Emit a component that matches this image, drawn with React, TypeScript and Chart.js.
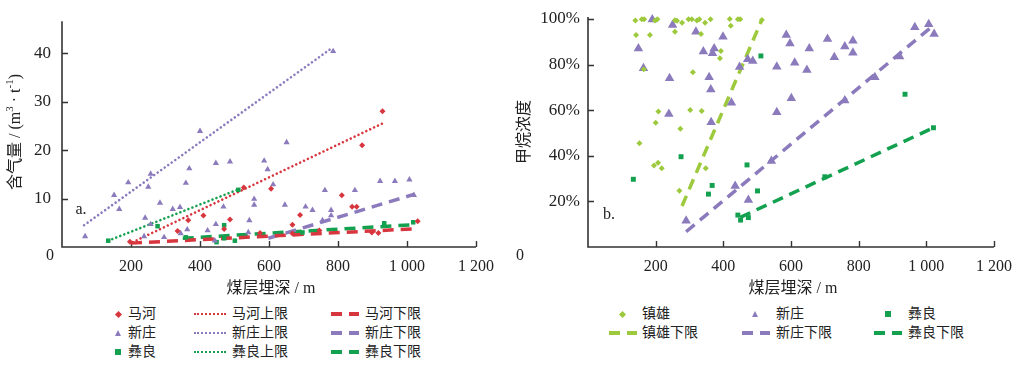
import { useEffect, useRef } from 'react';
import { Chart, registerables } from 'chart.js';
Chart.register(...registerables);

const FONT = '"Liberation Serif", "Noto Sans CJK SC", serif';
const RED = '#d8363f';
const PURPLE = '#8b7bbd';
const GREEN = '#13a04f';
const YGREEN = '#9dc93c';
const AXIS = '#333333';

// tick values
const depthTicks = [200, 400, 600, 800, 1000, 1200];
const gasTicks = [10, 20, 30, 40];
const concTicks = [0.2, 0.4, 0.6, 0.8, 1.0];

// ---- panel a: gas content (m3/t) vs depth (m)
const maHe: [number, number][] = [
  [197, 1.1], [335, 3.3], [366, 5.5], [410, 6.5], [470, 3.7], [487, 5.7], [527, 12.3],
  [574, 2.9], [606, 12.0], [668, 4.6], [668, 2.8], [690, 6.6], [746, 3.4], [811, 10.7],
  [841, 8.3], [854, 8.3], [870, 21.0], [898, 3.0], [917, 2.9], [929, 28.0], [1031, 5.3],
];
const xinZhuangA: [number, number][] = [
  [67, 2.2], [151, 10.7], [166, 7.8], [192, 13.3], [238, 2.2], [241, 6.0], [250, 12.4],
  [257, 15.1], [257, 4.7], [284, 9.1], [296, 2.0], [321, 7.8], [342, 8.2], [344, 2.8],
  [359, 13.2], [363, 3.6], [369, 16.2], [400, 23.9], [422, 3.4], [443, 1.3], [446, 4.7],
  [446, 17.3], [468, 8.3], [487, 17.6], [540, 3.0], [543, 5.5], [557, 8.7], [557, 9.9],
  [586, 17.8], [596, 16.0], [612, 12.9], [646, 8.7], [651, 21.6], [706, 8.3], [726, 7.6],
  [755, 5.5], [762, 11.7], [780, 6.5], [780, 7.6], [786, 40.4], [849, 11.7], [922, 13.6],
  [965, 13.6], [1007, 13.9], [1020, 10.7],
];
const yiLiangA: [number, number][] = [
  [134, 1.3], [277, 4.3], [359, 2.0], [448, 1.0], [470, 4.5], [470, 1.8], [501, 1.3],
  [511, 11.8], [697, 3.0], [934, 4.9], [1018, 5.1],
];
const maHeUpper: [number, number][] = [[205, 1.0], [929, 25.5]];
const xinZhuangUpper: [number, number][] = [[64, 4.5], [785, 41.2]];
const yiLiangUpper: [number, number][] = [[134, 1.3], [515, 12.0]];
const maHeLower: [number, number][] = [[200, 0.8], [1032, 3.8]];
const xinZhuangLowerA: [number, number][] = [[598, 1.8], [1022, 10.9]];
const yiLiangLowerA: [number, number][] = [[350, 1.8], [1020, 4.6]];

// ---- panel b: methane concentration vs depth (m)
const zhenXiong: [number, number][] = [
  [140, 0.993], [159, 0.999], [166, 0.999], [198, 0.993], [205, 0.999], [257, 0.995],
  [263, 0.992], [278, 0.984], [297, 0.999], [307, 0.999], [322, 0.993], [329, 0.999],
  [346, 0.984], [362, 0.999], [419, 1.0], [443, 0.999], [450, 0.999], [514, 0.996],
  [142, 0.93], [183, 0.93], [257, 0.944], [334, 0.934], [422, 0.97],
  [393, 0.86], [390, 0.828], [165, 0.78], [310, 0.766],
  [208, 0.594], [200, 0.545], [302, 0.601], [336, 0.596], [273, 0.519], [152, 0.455],
  [195, 0.357], [207, 0.37], [218, 0.345], [348, 0.345], [270, 0.247],
];
const xinZhuangB: [number, number][] = [
  [149, 0.871], [164, 0.784], [190, 0.998], [239, 0.583], [241, 0.74], [250, 0.974],
  [290, 0.115], [319, 0.944], [341, 0.857], [358, 0.744], [363, 0.691], [364, 0.547],
  [368, 0.85], [373, 0.871], [399, 0.922], [424, 0.633], [435, 0.268], [448, 0.79],
  [472, 0.823], [474, 0.206], [487, 0.816], [542, 0.377], [558, 0.591], [558, 0.791],
  [586, 0.93], [597, 0.893], [601, 0.652], [611, 0.808], [647, 0.776], [654, 0.871],
  [708, 0.912], [728, 0.832], [759, 0.642], [759, 0.879], [783, 0.852], [783, 0.905],
  [848, 0.744], [921, 0.835], [966, 0.964], [1007, 0.977], [1023, 0.934],
];
const yiLiangB: [number, number][] = [
  [134, 0.297], [275, 0.396], [356, 0.232], [367, 0.27], [443, 0.14], [451, 0.118],
  [470, 0.36], [474, 0.129], [501, 0.246], [511, 0.838], [700, 0.308], [937, 0.67],
  [1021, 0.523],
];
const zhenXiongLower: [number, number][] = [[278, 0.18], [512, 0.99]];
const xinZhuangLowerB: [number, number][] = [[290, 0.067], [1016, 0.966]];
const yiLiangLowerB: [number, number][] = [[450, 0.13], [1021, 0.523]];

const pts = (arr: [number, number][]) => arr.map(([x, y]) => ({ x, y }));

function scatterSet(label: string, data: [number, number][], color: string, style: string, radius: number) {
  return {
    type: 'scatter', label, data: pts(data), pointStyle: style, pointRadius: radius,
    pointHoverRadius: radius, backgroundColor: color, borderColor: color, borderWidth: 0,
    showLine: false, order: 0, clip: false,
  };
}
function lineSet(label: string, data: [number, number][], color: string, dotted: boolean) {
  return {
    type: 'scatter', label, data: pts(data), showLine: true, pointRadius: 0, pointHoverRadius: 0,
    borderColor: color, backgroundColor: color,
    borderWidth: dotted ? 2.6 : 3.5,
    borderDash: dotted ? [0.01, 4.3] : [11, 7],
    borderCapStyle: dotted ? 'round' : 'butt',
    order: 1, clip: false,
  };
}

const fmtDepth = (v: number) => {
  if (v === 0) return '';
  if (v >= 1000) return `${Math.floor(v / 1000)} ${String(v % 1000).padStart(3, '0')}`;
  return String(v);
};

type Piece = { t: string; sup?: boolean };

const axesPlugin = {
  id: 'customAxes',
  beforeDatasetsDraw(chart: any, _args: any, opts: any) {
    const { ctx, chartArea, scales } = chart;
    const xs = scales.x;
    const ys = scales.y;
    const x0 = xs.getPixelForValue(0);
    const yAxis = ys.getPixelForValue(0);
    const xEnd = xs.getPixelForValue(1200);
    ctx.save();
    ctx.strokeStyle = AXIS;
    ctx.lineWidth = 1.6;
    ctx.beginPath();
    ctx.moveTo(x0, chartArea.top - (opts.topExtra || 0));
    ctx.lineTo(x0, yAxis);
    ctx.lineTo(xEnd, yAxis);
    ctx.stroke();
    ctx.lineWidth = 1.4;
    ctx.beginPath();
    for (const v of depthTicks) {
      const px = Math.round(xs.getPixelForValue(v)) + 0.5;
      ctx.moveTo(px, yAxis);
      ctx.lineTo(px, yAxis - 6);
    }
    for (const v of opts.yTicks) {
      const py = Math.round(ys.getPixelForValue(v)) + 0.5;
      ctx.moveTo(x0, py);
      ctx.lineTo(x0 + 6, py);
    }
    ctx.stroke();

    ctx.fillStyle = '#222';
    ctx.textAlign = 'center';
    ctx.textBaseline = 'middle';
    ctx.font = `16px ${FONT}`;
    ctx.fillText('0', opts.zero[0], opts.zero[1]);
    ctx.fillText(opts.panel, opts.panelPos[0], opts.panelPos[1]);
    // x title
    ctx.fillText('煤层埋深 / m', (chartArea.left + chartArea.right) / 2 + 2, opts.xTitleY);

    // y title (rotated) with superscripts
    const pieces: Piece[] = opts.yTitle;
    const measure = (p: Piece) => {
      ctx.font = p.sup ? `11px ${FONT}` : `16px ${FONT}`;
      return ctx.measureText(p.t).width;
    };
    const total = pieces.reduce((s, p) => s + measure(p), 0);
    ctx.translate(opts.yTitlePos[0], opts.yTitlePos[1]);
    ctx.rotate(-Math.PI / 2);
    ctx.textAlign = 'left';
    let cx = -total / 2;
    for (const p of pieces) {
      const w = measure(p);
      ctx.fillText(p.t, cx, p.sup ? -6 : 0);
      cx += w;
    }
    ctx.restore();
  },
};

function makeConfig(kind: 'a' | 'b') {
  const tickFont = { family: FONT, size: 16 };
  const yTickFont = { family: FONT, size: 17 };
  const isA = kind === 'a';
  const datasets = isA
    ? [
        scatterSet('马河', maHe, RED, 'rectRot', 3),
        scatterSet('新庄', xinZhuangA, PURPLE, 'triangle', 3.6),
        scatterSet('彝良', yiLiangA, GREEN, 'rect', 3.2),
        lineSet('马河上限', maHeUpper, RED, true),
        lineSet('新庄上限', xinZhuangUpper, PURPLE, true),
        lineSet('彝良上限', yiLiangUpper, GREEN, true),
        lineSet('马河下限', maHeLower, RED, false),
        lineSet('新庄下限', xinZhuangLowerA, PURPLE, false),
        lineSet('彝良下限', yiLiangLowerA, GREEN, false),
      ]
    : [
        scatterSet('镇雄', zhenXiong, YGREEN, 'rectRot', 3),
        scatterSet('新庄', xinZhuangB, PURPLE, 'triangle', 5.5),
        scatterSet('彝良', yiLiangB, GREEN, 'rect', 3.5),
        lineSet('镇雄下限', zhenXiongLower, YGREEN, false),
        lineSet('新庄下限', xinZhuangLowerB, PURPLE, false),
        lineSet('彝良下限', yiLiangLowerB, GREEN, false),
      ];
  const yTicks = isA ? gasTicks : concTicks;
  return {
    type: 'scatter',
    data: { datasets },
    plugins: [axesPlugin],
    options: {
      animation: false,
      responsive: false,
      devicePixelRatio: 1,
      layout: { padding: { left: 0, top: isA ? 17 : 19, right: isA ? 29 : 22, bottom: 0 } },
      plugins: {
        legend: { display: false },
        tooltip: { enabled: false },
        customAxes: isA
          ? {
              yTicks, topExtra: 0, zero: [50, 256], panel: 'a.', panelPos: [81, 210], xTitleY: 289,
              yTitlePos: [16, 132],
              yTitle: [{ t: '含气量 / (m' }, { t: '3', sup: true }, { t: ' · t' }, { t: '-1', sup: true }, { t: ')' }],
            }
          : {
              yTicks, topExtra: 2, zero: [15, 256], panel: 'b.', panelPos: [104, 215], xTitleY: 289,
              yTitlePos: [20, 132],
              yTitle: [{ t: '甲烷浓度' }],
            },
      },
      scales: {
        x: {
          type: 'linear', min: 0, max: 1200,
          afterBuildTicks: (s: any) => { s.ticks = [0, ...depthTicks].map((v) => ({ value: v })); },
          afterFit: (s: any) => { s.height = 53; },
          grid: { display: false, drawTicks: false, tickLength: 0 },
          border: { display: false },
          ticks: { padding: 10, font: tickFont, color: '#222', maxRotation: 0, autoSkip: false, callback: (v: any) => fmtDepth(Number(v)) },
        },
        y: {
          type: 'linear', min: 0, max: isA ? 46.6 : 1.0,
          afterBuildTicks: (s: any) => { s.ticks = [0, ...yTicks].map((v) => ({ value: v })); },
          afterFit: (s: any) => { s.width = isA ? 62 : 83; },
          grid: { display: false, drawTicks: false, tickLength: 0 },
          border: { display: false },
          ticks: {
            padding: isA ? 11 : 8, font: yTickFont, color: '#222', autoSkip: false,
            callback: (v: any) => {
              const n = Number(v);
              if (n === 0) return '';
              return isA ? String(n) : `${Math.round(n * 100)}%`;
            },
          },
        },
      },
    },
  };
}

function Panel({ kind, left, width }: { kind: 'a' | 'b'; left: number; width: number }) {
  const ref = useRef<HTMLCanvasElement | null>(null);
  useEffect(() => {
    if (!ref.current) return;
    const chart = new Chart(ref.current, makeConfig(kind) as any);
    return () => chart.destroy();
  }, [kind]);
  return (
    <canvas
      ref={ref}
      width={width}
      height={300}
      style={{ position: 'absolute', left, top: 0, width, height: 300 }}
    />
  );
}

type LegendItem = { label: string; color: string; kind: 'diamond' | 'triangle' | 'square' | 'dotted' | 'dashed'; x: number; y: number; textX: number; lineW?: number };

function Marker({ it }: { it: LegendItem }) {
  const c = it.color;
  if (it.kind === 'diamond') {
    return <div style={{ position: 'absolute', left: it.x - 2.5, top: it.y - 2.5, width: 5, height: 5, background: c, transform: 'rotate(45deg)' }} />;
  }
  if (it.kind === 'triangle') {
    return <div style={{ position: 'absolute', left: it.x - 3.5, top: it.y - 3.5, width: 0, height: 0, borderLeft: '3.5px solid transparent', borderRight: '3.5px solid transparent', borderBottom: `6px solid ${c}` }} />;
  }
  if (it.kind === 'square') {
    return <div style={{ position: 'absolute', left: it.x - 3, top: it.y - 3, width: 6, height: 6, background: c }} />;
  }
  const w = it.lineW || 30;
  if (it.kind === 'dotted') {
    return <div style={{ position: 'absolute', left: it.x, top: it.y - 1, width: w, height: 0, borderTop: `2.5px dotted ${c}` }} />;
  }
  const dw = (w - 7) / 2;
  return (
    <>
      <div style={{ position: 'absolute', left: it.x, top: it.y - 1.75, width: dw, height: 3.5, background: c }} />
      <div style={{ position: 'absolute', left: it.x + dw + 7, top: it.y - 1.75, width: dw, height: 3.5, background: c }} />
    </>
  );
}

const legendA: LegendItem[] = [
  { label: '马河', color: RED, kind: 'diamond', x: 118, y: 314, textX: 128 },
  { label: '新庄', color: PURPLE, kind: 'triangle', x: 118, y: 333, textX: 128 },
  { label: '彝良', color: GREEN, kind: 'square', x: 118, y: 352, textX: 128 },
  { label: '马河上限', color: RED, kind: 'dotted', x: 194, y: 314, textX: 232, lineW: 32 },
  { label: '新庄上限', color: PURPLE, kind: 'dotted', x: 194, y: 333, textX: 232, lineW: 32 },
  { label: '彝良上限', color: GREEN, kind: 'dotted', x: 194, y: 352, textX: 232, lineW: 32 },
  { label: '马河下限', color: RED, kind: 'dashed', x: 331, y: 314, textX: 365, lineW: 28 },
  { label: '新庄下限', color: PURPLE, kind: 'dashed', x: 331, y: 333, textX: 365, lineW: 28 },
  { label: '彝良下限', color: GREEN, kind: 'dashed', x: 331, y: 352, textX: 365, lineW: 28 },
];
const legendB: LegendItem[] = [
  { label: '镇雄', color: YGREEN, kind: 'diamond', x: 622, y: 314, textX: 642 },
  { label: '新庄', color: PURPLE, kind: 'triangle', x: 755, y: 314, textX: 776 },
  { label: '彝良', color: GREEN, kind: 'square', x: 888, y: 314, textX: 908 },
  { label: '镇雄下限', color: YGREEN, kind: 'dashed', x: 609, y: 333, textX: 642, lineW: 28 },
  { label: '新庄下限', color: PURPLE, kind: 'dashed', x: 742, y: 333, textX: 776, lineW: 28 },
  { label: '彝良下限', color: GREEN, kind: 'dashed', x: 874, y: 333, textX: 908, lineW: 28 },
];

function Legend({ items }: { items: LegendItem[] }) {
  return (
    <>
      {items.map((it) => (
        <div key={it.label + it.x}>
          <Marker it={it} />
          <div style={{ position: 'absolute', left: it.textX, top: it.y - 10, height: 20, lineHeight: '20px', fontSize: 14, fontFamily: FONT, color: '#222', whiteSpace: 'nowrap' }}>
            {it.label}
          </div>
        </div>
      ))}
    </>
  );
}

export default function App() {
  useEffect(() => {
    document.body.style.margin = '0';
  }, []);
  return (
    <div style={{ position: 'relative', width: 1022, height: 366, background: '#fff', overflow: 'hidden' }}>
      <Panel kind="a" left={0} width={505} />
      <Panel kind="b" left={505} width={517} />
      <Legend items={legendA} />
      <Legend items={legendB} />
    </div>
  );
}
